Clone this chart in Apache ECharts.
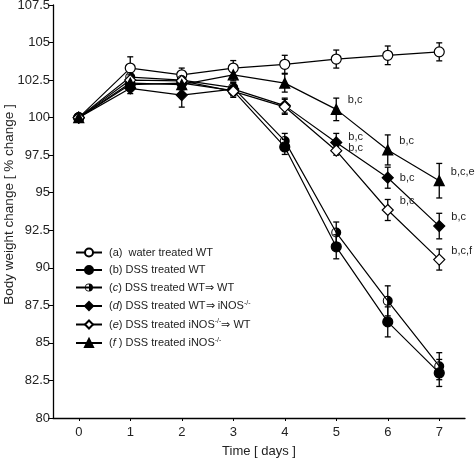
<!DOCTYPE html>
<html><head><meta charset="utf-8">
<script src="https://cdn.jsdelivr.net/npm/echarts@6/dist/echarts.min.js"></script>
<style>html,body{margin:0;padding:0;background:#fff}#c{width:475px;height:459px}</style>
</head><body><div id="c"></div>
<script>
const days = [0,1,2,3,4,5,6,7];
const yTicks = [80,82.5,85,87.5,90,92.5,95,97.5,100,102.5,105,107.5];
const xTicks = [0,1,2,3,4,5,6,7];

const seriesNames = ['a','b','c','d','e','f'];
const legendTexts = [
  '(a)  water treated WT',
  '(b) DSS treated WT',
  '({i|c}) DSS treated WT⇒ WT',
  '({i|d}) DSS treated WT⇒ iNOS{s|-/-}',
  '({i|e}) DSS treated iNOS{s|-/-}⇒ WT',
  '({i|f} ) DSS treated iNOS{s|-/-}'
];
const valA = [100, 103.3, 102.85, 103.3, 103.55, 103.9, 104.15, 104.38];
const errA = [0, 0.75, 0.45, 0.5, 0.6, 0.6, 0.62, 0.6];
const valB = [100, 102.2, 102.3, 101.8, 98.05, 91.4, 86.4, 83.0];
const errB = [0, 0.35, 0.4, 0.35, 0.5, 0.8, 1.0, 0.9];
const valC = [100, 102.7, 102.5, 102.0, 98.45, 92.35, 87.8, 83.45];
const errC = [0, 0.4, 0.4, 0.35, 0.5, 0.7, 1.0, 0.9];
const valD = [100, 101.95, 101.5, 101.9, 100.8, 98.35, 96.0, 92.78];
const errD = [0, 0.35, 0.8, 0.4, 0.5, 0.6, 0.7, 0.85];
const valE = [100, 102.5, 102.45, 101.75, 100.72, 97.8, 93.85, 90.55];
const errE = [0, 0.35, 0.35, 0.4, 0.5, 0.3, 0.7, 0.7];
const valF = [100, 102.3, 102.2, 102.85, 102.3, 100.55, 97.85, 95.8];
const errF = [0, 0.35, 0.35, 0.4, 0.6, 0.75, 1.0, 1.15];

// annotations: [series, day, text]
const notes = [
  ['f',5,'b,c'],['d',5,'b,c'],['e',5,'b,c'],
  ['f',6,'b,c'],['d',6,'b,c'],['e',6,'b,c'],
  ['f',7,'b,c,e'],['d',7,'b,c'],['e',7,'b,c,f']
];

const vals = {a:valA,b:valB,c:valC,d:valD,e:valE,f:valF};
const errs = {a:errA,b:errB,c:errC,d:errD,e:errE,f:errF};
const halfCircle = 'path://M0,-10A10,10,0,1,1,0,10A10,10,0,1,1,0,-10ZM0,-8A8,8,0,1,0,0,8A8,8,0,1,0,0,-8ZM0,-8.5A8.5,8.5,0,0,1,0,8.5Z';
const sym = {
  a:{symbol:'circle', fill:'#fff', size:10},
  b:{symbol:'circle', fill:'#000', size:10},
  c:{symbol:halfCircle, fill:'#000', size:10, noBorder:true},
  d:{symbol:'diamond', fill:'#000', size:11},
  e:{symbol:'diamond', fill:'#fff', size:11},
  f:{symbol:'triangle', fill:'#000', size:10}
};

const series = [];
seriesNames.forEach((k,i)=>{
  const data = days.map((d,j)=>{
    const item = {value:[d, vals[k][j]]};
    const n = notes.find(t=>t[0]===k && t[1]===d);
    if(n){
      item.label = {show:true, formatter:n[2], position:'right', distance:6,
        offset:[0, (k==='e'&&d===5)?-3:(k==='d'&&d===6)?0:(k==='d'&&d===5)?-5:-9],
        color:'#222', fontSize:11, fontFamily:'Liberation Sans'};
    }
    return item;
  });
  series.push({
    name: legendTexts[i], type:'line', data, symbol: sym[k].symbol, symbolSize: sym[k].size,
    z: 3,
    lineStyle:{color:'#000', width:1.2},
    itemStyle:{color: sym[k].fill, borderColor:'#000', borderWidth: sym[k].noBorder?0:1.2},
    emphasis:{disabled:true}, animation:false
  });
  series.push({
    type:'custom', silent:true, z:2,
    data: days.map((d,j)=>[d, vals[k][j], errs[k][j]]),
    renderItem:(params, api)=>{
      const x = api.value(0), y = api.value(1), e = api.value(2);
      if(!e) return null;
      const top = api.coord([x, y+e]), bot = api.coord([x, y-e]);
      const w = 3;
      const st = {stroke:'#000', lineWidth:1.3};
      return {type:'group', children:[
        {type:'line', shape:{x1:top[0],y1:top[1],x2:bot[0],y2:bot[1]}, style:st},
        {type:'line', shape:{x1:top[0]-w,y1:top[1],x2:top[0]+w,y2:top[1]}, style:st},
        {type:'line', shape:{x1:bot[0]-w,y1:bot[1],x2:bot[0]+w,y2:bot[1]}, style:st}
      ]};
    },
    animation:false
  });
});

const chart = echarts.init(document.getElementById('c'));
chart.setOption({
  animation:false,
  textStyle:{fontFamily:'Liberation Sans'},
  grid:{left:53, top:5, right:10, bottom:41, containLabel:false, outerBoundsMode:'none'},
  xAxis:{
    type:'value', min:-0.5, max:7.5,
    name:'Time [ days ]', nameLocation:'middle', nameGap:27, nameMoveOverlap:false,
    nameTextStyle:{color:'#222', fontSize:13},
    axisLine:{onZero:false, lineStyle:{color:'#000', width:1.3}},
    axisTick:{show:true, length:3, customValues: xTicks, lineStyle:{color:'#000'}},
    axisLabel:{customValues: xTicks, color:'#222', fontSize:13, margin:8},
    splitLine:{show:false}
  },
  yAxis:{
    type:'value', min:80, max:107.5, interval:2.5,
    name:'Body weight change [ % change ]', nameLocation:'middle', nameGap:37, nameMoveOverlap:false,
    nameTextStyle:{color:'#222', fontSize:13.5, padding:[0,0,0,14]},
    axisLine:{show:true, onZero:false, lineStyle:{color:'#000', width:1.3}},
    axisTick:{show:true, length:5, lineStyle:{color:'#000'}},
    axisLabel:{color:'#222', fontSize:13, margin:3, formatter: v=>String(v)},
    splitLine:{show:false}
  },
  legend:{
    orient:'vertical', left:70, top:242, itemWidth:26, itemHeight:10, itemGap:6.5,
    data: legendTexts,
    textStyle:{color:'#222', fontSize:11, fontFamily:'Liberation Sans', padding:[0,0,0,2],
      rich:{ i:{fontStyle:'italic', fontSize:11, color:'#222'}, s:{fontSize:7, color:'#222', padding:[0,0,6,0]} }},
    selectedMode:false
  },
  series
});
</script></body></html>
